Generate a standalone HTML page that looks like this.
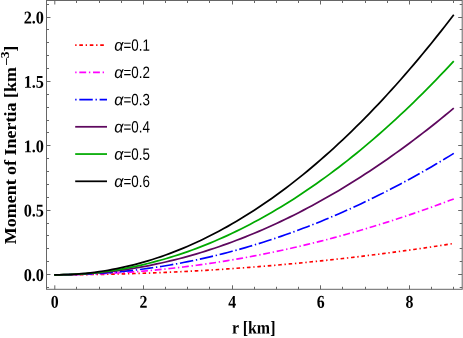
<!DOCTYPE html>
<html><head><meta charset="utf-8"><title>plot</title>
<style>html,body{margin:0;padding:0;background:#fff;}body{width:463px;height:338px;overflow:hidden;}svg{display:block;will-change:transform;}text{fill:#000;}.t{font-family:"Liberation Serif",serif;font-weight:bold;}.l{font-family:"Liberation Sans",sans-serif;font-size:16.5px;}</style></head><body>
<svg width="463" height="338" viewBox="0 0 463 338">
<rect x="0" y="0" width="463" height="338" fill="#fff"/>
<polyline points="54.20,274.80 54.80,274.80 59.23,274.80 63.67,274.78 68.10,274.77 72.53,274.74 76.97,274.70 81.40,274.66 85.83,274.61 90.26,274.55 94.70,274.49 99.13,274.41 103.56,274.33 108.00,274.24 112.43,274.15 116.86,274.04 121.30,273.93 125.73,273.81 130.16,273.68 134.59,273.55 139.03,273.40 143.46,273.25 147.89,273.10 152.33,272.93 156.76,272.76 161.19,272.57 165.62,272.38 170.06,272.19 174.49,271.98 178.92,271.77 183.36,271.55 187.79,271.32 192.22,271.09 196.66,270.84 201.09,270.59 205.52,270.33 209.95,270.07 214.39,269.79 218.82,269.51 223.25,269.22 227.69,268.92 232.12,268.62 236.55,268.30 240.99,267.98 245.42,267.65 249.85,267.32 254.28,266.97 258.72,266.62 263.15,266.26 267.58,265.90 272.02,265.52 276.45,265.14 280.88,264.75 285.32,264.35 289.75,263.94 294.18,263.53 298.62,263.11 303.05,262.68 307.48,262.24 311.91,261.80 316.35,261.35 320.78,260.89 325.21,260.42 329.65,259.95 334.08,259.46 338.51,258.97 342.94,258.47 347.38,257.97 351.81,257.45 356.24,256.93 360.68,256.40 365.11,255.86 369.54,255.32 373.98,254.77 378.41,254.21 382.84,253.64 387.27,253.06 391.71,252.48 396.14,251.89 400.57,251.29 405.01,250.68 409.44,250.07 413.87,249.45 418.31,248.82 422.74,248.18 427.17,247.53 431.61,246.88 436.04,246.22 440.47,245.55 444.90,244.87 449.34,244.19 453.77,243.50" fill="none" stroke="#ff0000" stroke-width="1.65" stroke-dasharray="1.37 2.74 3.605 2.74" stroke-dashoffset="9.86" stroke-linejoin="round"/>
<polyline points="54.20,274.80 54.80,274.80 59.23,274.79 63.67,274.76 68.10,274.72 72.53,274.65 76.97,274.57 81.40,274.47 85.83,274.35 90.26,274.21 94.70,274.05 99.13,273.87 103.56,273.68 108.00,273.46 112.43,273.23 116.86,272.98 121.30,272.71 125.73,272.42 130.16,272.11 134.59,271.79 139.03,271.44 143.46,271.08 147.89,270.70 152.33,270.30 156.76,269.88 161.19,269.44 165.62,268.98 170.06,268.50 174.49,268.01 178.92,267.50 183.36,266.96 187.79,266.41 192.22,265.84 196.66,265.25 201.09,264.65 205.52,264.02 209.95,263.37 214.39,262.71 218.82,262.03 223.25,261.33 227.69,260.61 232.12,259.87 236.55,259.11 240.99,258.33 245.42,257.54 249.85,256.72 254.28,255.89 258.72,255.04 263.15,254.17 267.58,253.28 272.02,252.37 276.45,251.44 280.88,250.50 285.32,249.53 289.75,248.55 294.18,247.54 298.62,246.52 303.05,245.48 307.48,244.42 311.91,243.35 316.35,242.25 320.78,241.13 325.21,240.00 329.65,238.85 334.08,237.67 338.51,236.48 342.94,235.27 347.38,234.04 351.81,232.80 356.24,231.53 360.68,230.24 365.11,228.94 369.54,227.62 373.98,226.28 378.41,224.91 382.84,223.54 387.27,222.14 391.71,220.72 396.14,219.28 400.57,217.83 405.01,216.35 409.44,214.86 413.87,213.35 418.31,211.82 422.74,210.27 427.17,208.70 431.61,207.11 436.04,205.51 440.47,203.88 444.90,202.24 449.34,200.58 453.77,198.90" fill="none" stroke="#ff00ff" stroke-width="1.65" stroke-dasharray="1.37 2.74 6.864 2.74" stroke-dashoffset="13.11" stroke-linejoin="round"/>
<polyline points="54.20,274.80 54.80,274.80 59.23,274.79 63.67,274.75 68.10,274.68 72.53,274.58 76.97,274.45 81.40,274.30 85.83,274.11 90.26,273.90 94.70,273.65 99.13,273.38 103.56,273.08 108.00,272.75 112.43,272.39 116.86,272.00 121.30,271.58 125.73,271.13 130.16,270.65 134.59,270.14 139.03,269.60 143.46,269.03 147.89,268.43 152.33,267.80 156.76,267.14 161.19,266.45 165.62,265.73 170.06,264.98 174.49,264.20 178.92,263.39 183.36,262.55 187.79,261.68 192.22,260.78 196.66,259.84 201.09,258.88 205.52,257.89 209.95,256.87 214.39,255.82 218.82,254.73 223.25,253.62 227.69,252.48 232.12,251.30 236.55,250.10 240.99,248.86 245.42,247.60 249.85,246.30 254.28,244.97 258.72,243.62 263.15,242.23 267.58,240.81 272.02,239.36 276.45,237.88 280.88,236.37 285.32,234.83 289.75,233.26 294.18,231.65 298.62,230.02 303.05,228.35 307.48,226.66 311.91,224.93 316.35,223.18 320.78,221.39 325.21,219.57 329.65,217.72 334.08,215.84 338.51,213.93 342.94,211.99 347.38,210.02 351.81,208.02 356.24,205.98 360.68,203.92 365.11,201.82 369.54,199.70 373.98,197.54 378.41,195.35 382.84,193.13 387.27,190.88 391.71,188.60 396.14,186.29 400.57,183.94 405.01,181.57 409.44,179.17 413.87,176.73 418.31,174.26 422.74,171.76 427.17,169.23 431.61,166.67 436.04,164.08 440.47,161.46 444.90,158.81 449.34,156.12 453.77,153.41" fill="none" stroke="#0000ff" stroke-width="1.65" stroke-dasharray="1.37 2.74 13.45 2.74" stroke-dashoffset="19.70" stroke-linejoin="round"/>
<polyline points="54.20,274.80 54.80,274.80 59.23,274.78 63.67,274.72 68.10,274.62 72.53,274.47 76.97,274.29 81.40,274.07 85.83,273.80 90.26,273.49 94.70,273.15 99.13,272.76 103.56,272.33 108.00,271.86 112.43,271.34 116.86,270.79 121.30,270.20 125.73,269.56 130.16,268.88 134.59,268.17 139.03,267.41 143.46,266.61 147.89,265.77 152.33,264.89 156.76,263.96 161.19,263.00 165.62,261.99 170.06,260.95 174.49,259.86 178.92,258.73 183.36,257.56 187.79,256.35 192.22,255.10 196.66,253.80 201.09,252.47 205.52,251.09 209.95,249.67 214.39,248.21 218.82,246.71 223.25,245.17 227.69,243.59 232.12,241.97 236.55,240.30 240.99,238.60 245.42,236.85 249.85,235.06 254.28,233.23 258.72,231.36 263.15,229.45 267.58,227.50 272.02,225.50 276.45,223.47 280.88,221.39 285.32,219.27 289.75,217.11 294.18,214.91 298.62,212.67 303.05,210.38 307.48,208.06 311.91,205.69 316.35,203.29 320.78,200.84 325.21,198.35 329.65,195.82 334.08,193.25 338.51,190.63 342.94,187.98 347.38,185.28 351.81,182.54 356.24,179.77 360.68,176.95 365.11,174.08 369.54,171.18 373.98,168.24 378.41,165.25 382.84,162.23 387.27,159.16 391.71,156.05 396.14,152.90 400.57,149.71 405.01,146.47 409.44,143.20 413.87,139.88 418.31,136.53 422.74,133.13 427.17,129.69 431.61,126.21 436.04,122.69 440.47,119.12 444.90,115.52 449.34,111.87 453.77,108.18" fill="none" stroke="#5e085e" stroke-width="1.75" stroke-linejoin="round"/>
<polyline points="54.20,274.80 54.80,274.80 59.23,274.78 63.67,274.70 68.10,274.58 72.53,274.40 76.97,274.18 81.40,273.90 85.83,273.57 90.26,273.19 94.70,272.76 99.13,272.27 103.56,271.74 108.00,271.15 112.43,270.51 116.86,269.82 121.30,269.07 125.73,268.27 130.16,267.42 134.59,266.52 139.03,265.57 143.46,264.56 147.89,263.50 152.33,262.38 156.76,261.22 161.19,260.00 165.62,258.72 170.06,257.40 174.49,256.02 178.92,254.59 183.36,253.10 187.79,251.57 192.22,249.98 196.66,248.33 201.09,246.63 205.52,244.88 209.95,243.08 214.39,241.22 218.82,239.31 223.25,237.35 227.69,235.33 232.12,233.26 236.55,231.13 240.99,228.96 245.42,226.72 249.85,224.44 254.28,222.10 258.72,219.71 263.15,217.26 267.58,214.76 272.02,212.21 276.45,209.60 280.88,206.94 285.32,204.23 289.75,201.46 294.18,198.64 298.62,195.76 303.05,192.83 307.48,189.85 311.91,186.81 316.35,183.72 320.78,180.57 325.21,177.37 329.65,174.12 334.08,170.81 338.51,167.45 342.94,164.03 347.38,160.57 351.81,157.04 356.24,153.46 360.68,149.83 365.11,146.15 369.54,142.41 373.98,138.61 378.41,134.77 382.84,130.86 387.27,126.91 391.71,122.90 396.14,118.83 400.57,114.72 405.01,110.54 409.44,106.32 413.87,102.03 418.31,97.70 422.74,93.31 427.17,88.86 431.61,84.37 436.04,79.81 440.47,75.21 444.90,70.54 449.34,65.83 453.77,61.06" fill="none" stroke="#00aa00" stroke-width="1.75" stroke-linejoin="round"/>
<polyline points="54.20,274.80 54.80,274.80 59.23,274.77 63.67,274.68 68.10,274.52 72.53,274.30 76.97,274.02 81.40,273.67 85.83,273.27 90.26,272.79 94.70,272.26 99.13,271.66 103.56,271.00 108.00,270.27 112.43,269.48 116.86,268.62 121.30,267.70 125.73,266.72 130.16,265.67 134.59,264.56 139.03,263.39 143.46,262.15 147.89,260.84 152.33,259.48 156.76,258.04 161.19,256.55 165.62,254.99 170.06,253.36 174.49,251.67 178.92,249.92 183.36,248.10 187.79,246.22 192.22,244.27 196.66,242.26 201.09,240.18 205.52,238.04 209.95,235.83 214.39,233.56 218.82,231.23 223.25,228.83 227.69,226.37 232.12,223.84 236.55,221.24 240.99,218.59 245.42,215.86 249.85,213.08 254.28,210.23 258.72,207.31 263.15,204.33 267.58,201.28 272.02,198.17 276.45,194.99 280.88,191.75 285.32,188.45 289.75,185.08 294.18,181.64 298.62,178.14 303.05,174.58 307.48,170.95 311.91,167.25 316.35,163.49 320.78,159.67 325.21,155.78 329.65,151.83 334.08,147.81 338.51,143.72 342.94,139.57 347.38,135.36 351.81,131.08 356.24,126.74 360.68,122.33 365.11,117.85 369.54,113.31 373.98,108.71 378.41,104.04 382.84,99.31 387.27,94.51 391.71,89.64 396.14,84.71 400.57,79.72 405.01,74.66 409.44,69.53 413.87,64.34 418.31,59.09 422.74,53.77 427.17,48.38 431.61,42.93 436.04,37.42 440.47,31.84 444.90,26.19 449.34,20.48 453.77,14.70" fill="none" stroke="#000000" stroke-width="1.75" stroke-linejoin="round"/>
<rect x="46.50" y="0.50" width="415.70" height="288.80" fill="none" stroke="#666" stroke-width="1"/>
<path d="M54.80 289.30v-4.00M54.80 0.50v4.00M76.50 289.30v-2.50M76.50 0.50v2.50M99.50 289.30v-2.50M99.50 0.50v2.50M121.50 289.30v-2.50M121.50 0.50v2.50M143.50 289.30v-4.00M143.50 0.50v4.00M165.50 289.30v-2.50M165.50 0.50v2.50M187.50 289.30v-2.50M187.50 0.50v2.50M209.50 289.30v-2.50M209.50 0.50v2.50M232.50 289.30v-4.00M232.50 0.50v4.00M254.50 289.30v-2.50M254.50 0.50v2.50M276.50 289.30v-2.50M276.50 0.50v2.50M298.50 289.30v-2.50M298.50 0.50v2.50M320.50 289.30v-4.00M320.50 0.50v4.00M342.50 289.30v-2.50M342.50 0.50v2.50M365.50 289.30v-2.50M365.50 0.50v2.50M387.50 289.30v-2.50M387.50 0.50v2.50M409.50 289.30v-4.00M409.50 0.50v4.00M431.50 289.30v-2.50M431.50 0.50v2.50M453.50 289.30v-2.50M453.50 0.50v2.50M46.50 287.50h2.50M462.20 287.50h-2.50M46.50 274.50h4.00M462.20 274.50h-4.00M46.50 261.50h2.50M462.20 261.50h-2.50M46.50 248.50h2.50M462.20 248.50h-2.50M46.50 235.50h2.50M462.20 235.50h-2.50M46.50 223.50h2.50M462.20 223.50h-2.50M46.50 210.50h4.00M462.20 210.50h-4.00M46.50 197.50h2.50M462.20 197.50h-2.50M46.50 184.50h2.50M462.20 184.50h-2.50M46.50 171.50h2.50M462.20 171.50h-2.50M46.50 158.50h2.50M462.20 158.50h-2.50M46.50 145.50h4.00M462.20 145.50h-4.00M46.50 132.50h2.50M462.20 132.50h-2.50M46.50 120.50h2.50M462.20 120.50h-2.50M46.50 107.50h2.50M462.20 107.50h-2.50M46.50 94.50h2.50M462.20 94.50h-2.50M46.50 81.50h4.00M462.20 81.50h-4.00M46.50 68.50h2.50M462.20 68.50h-2.50M46.50 55.50h2.50M462.20 55.50h-2.50M46.50 42.50h2.50M462.20 42.50h-2.50M46.50 29.50h2.50M462.20 29.50h-2.50M46.50 17.50h4.00M462.20 17.50h-4.00M46.50 4.50h2.50M462.20 4.50h-2.50" stroke="#666" stroke-width="1" fill="none"/>
<text class="t" transform="translate(54.80,307.8) rotate(0.05) scale(0.88,1)" style="font-size:18px" text-anchor="middle">0</text>
<text class="t" transform="translate(143.46,307.8) rotate(0.05) scale(0.88,1)" style="font-size:18px" text-anchor="middle">2</text>
<text class="t" transform="translate(232.12,307.8) rotate(0.05) scale(0.88,1)" style="font-size:18px" text-anchor="middle">4</text>
<text class="t" transform="translate(320.78,307.8) rotate(0.05) scale(0.88,1)" style="font-size:18px" text-anchor="middle">6</text>
<text class="t" transform="translate(409.44,307.8) rotate(0.05) scale(0.88,1)" style="font-size:18px" text-anchor="middle">8</text>
<text class="t" transform="translate(44.0,280.95) rotate(0.05) scale(0.905,1)" style="font-size:18px" text-anchor="end">0.0</text>
<text class="t" transform="translate(44.0,216.57) rotate(0.05) scale(0.905,1)" style="font-size:18px" text-anchor="end">0.5</text>
<text class="t" transform="translate(44.0,152.19) rotate(0.05) scale(0.905,1)" style="font-size:18px" text-anchor="end">1.0</text>
<text class="t" transform="translate(44.0,87.81) rotate(0.05) scale(0.905,1)" style="font-size:18px" text-anchor="end">1.5</text>
<text class="t" transform="translate(44.0,23.43) rotate(0.05) scale(0.905,1)" style="font-size:18px" text-anchor="end">2.0</text>
<text class="t" transform="translate(253.7,333.5) rotate(0.05) scale(0.886,1)" style="font-size:18px" text-anchor="middle">r [km]</text>
<text class="t" transform="translate(16.3,244.3) rotate(-90) scale(1,0.94)" style="font-size:18px" x="0" y="0">Moment of Inertia [km<tspan dy="-7.9" dx="1.9" style="font-size:13.5px">–3</tspan><tspan dy="7.9" dx="-0.1">]</tspan></text>
<line x1="75.2" y1="45.05" x2="106" y2="45.05" stroke="#ff0000" stroke-width="1.65" stroke-dasharray="1.37 2.74 3.605 2.74" stroke-dashoffset="0.00"/>
<text class="l" transform="translate(114.3,50.80) rotate(0.05) scale(0.98,1)" font-style="italic">α</text><text class="l" transform="translate(123.5,50.80) rotate(0.05) scale(0.81,1)">=0.1</text>
<line x1="75.2" y1="72.30" x2="106" y2="72.30" stroke="#ff00ff" stroke-width="1.65" stroke-dasharray="1.37 2.74 6.864 2.74" stroke-dashoffset="0.00"/>
<text class="l" transform="translate(114.3,78.05) rotate(0.05) scale(0.98,1)" font-style="italic">α</text><text class="l" transform="translate(123.5,78.05) rotate(0.05) scale(0.81,1)">=0.2</text>
<line x1="75.2" y1="99.55" x2="107" y2="99.55" stroke="#0000ff" stroke-width="1.65" stroke-dasharray="1.37 2.74 13.45 2.74" stroke-dashoffset="0.00"/>
<text class="l" transform="translate(114.3,105.30) rotate(0.05) scale(0.98,1)" font-style="italic">α</text><text class="l" transform="translate(123.5,105.30) rotate(0.05) scale(0.81,1)">=0.3</text>
<line x1="75.2" y1="126.80" x2="107" y2="126.80" stroke="#5e085e" stroke-width="1.75"/>
<text class="l" transform="translate(114.3,132.55) rotate(0.05) scale(0.98,1)" font-style="italic">α</text><text class="l" transform="translate(123.5,132.55) rotate(0.05) scale(0.81,1)">=0.4</text>
<line x1="75.2" y1="154.05" x2="107" y2="154.05" stroke="#00aa00" stroke-width="1.75"/>
<text class="l" transform="translate(114.3,159.80) rotate(0.05) scale(0.98,1)" font-style="italic">α</text><text class="l" transform="translate(123.5,159.80) rotate(0.05) scale(0.81,1)">=0.5</text>
<line x1="75.2" y1="181.30" x2="107" y2="181.30" stroke="#000000" stroke-width="1.75"/>
<text class="l" transform="translate(114.3,187.05) rotate(0.05) scale(0.98,1)" font-style="italic">α</text><text class="l" transform="translate(123.5,187.05) rotate(0.05) scale(0.81,1)">=0.6</text>
</svg></body></html>
